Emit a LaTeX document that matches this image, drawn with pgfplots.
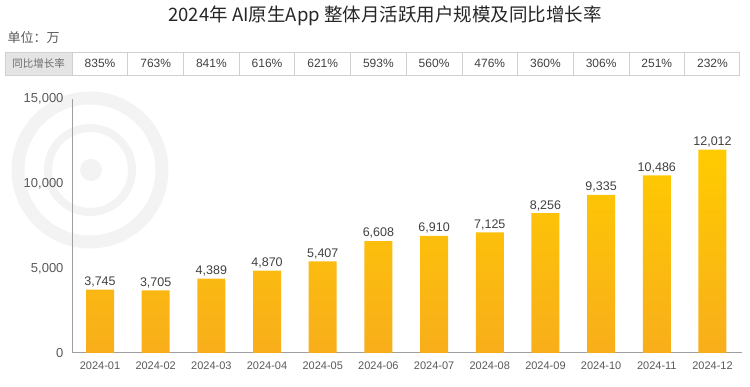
\documentclass[border=0pt]{standalone}
\usepackage{pgfplots}
\pgfplotsset{compat=1.18}
\usepackage{fontspec}
\setmainfont{Liberation Sans}
\newfontfamily\cjk{Noto Sans CJK SC}
\definecolor{barTop}{HTML}{FFCB00}
\definecolor{barBot}{HTML}{F8AE1B}
\definecolor{txt}{HTML}{595959}
\definecolor{val}{HTML}{404040}
\definecolor{grid}{HTML}{D0D0D0}
\definecolor{cellbg}{HTML}{E4E4E4}
\definecolor{wm}{HTML}{F3F3F3}
\begin{document}
\begin{tikzpicture}[x=1pt,y=1pt]
\path[use as bounding box] (0,0) rectangle (750,387);
% watermark logo
\draw[wm, line width=13pt] (90,217) circle (72);
\draw[wm, line width=8pt] (90,217) circle (42);
\fill[wm] (91,217) circle (11);
\begin{axis}[
  at={(73pt,34pt)}, anchor=south west,
  scale only axis, width=669pt, height=254pt,
  xmin=-0.485, xmax=11.53, ymin=0, ymax=15000,
  axis lines=left, axis line style={-, draw=gray!75, line width=1pt},
  xtick={0,...,11},
  xticklabels={2024-01,2024-02,2024-03,2024-04,2024-05,2024-06,2024-07,2024-08,2024-09,2024-10,2024-11,2024-12},
  ytick={0,5000,10000,15000},
  scaled y ticks=false,
  major tick length=0pt,
  /pgf/number format/assume math mode=true,
  /pgf/number format/1000 sep={,},
  yticklabel style={font=\fontsize{13}{15}\selectfont, text=txt, xshift=-6pt},
  xticklabel style={font=\fontsize{11}{13}\selectfont, text=txt, yshift=-5pt},
  clip=false,
]
\addplot[ybar, bar width=28pt, draw=none, top color=barTop, bottom color=barBot,
  nodes near coords,
  every node near coord/.append style={font=\fontsize{12.5}{14}\selectfont, text=val, yshift=-1pt}]
  coordinates {(0,3745) (1,3705) (2,4389) (3,4870) (4,5407) (5,6608) (6,6910) (7,7125) (8,8256) (9,9335) (10,10486) (11,12012)};
% YoY growth table
\fill[cellbg] (axis cs:-1.706,16417) rectangle (axis cs:-0.5,17776);
\draw[grid, line width=0.8pt] (axis cs:-1.706,16417) rectangle (axis cs:11.49,17776);
\pgfplotsinvokeforeach{-0.5,0.5,1.5,2.5,3.5,4.5,5.5,6.5,7.5,8.5,9.5,10.5}{
  \draw[grid, line width=0.8pt] (axis cs:#1,16417) -- (axis cs:#1,17776);
}
\node[text=gray!85!black, font=\cjk\fontsize{10.5}{12}\selectfont] at (axis cs:-1.103,17096) {同比增长率};
\addplot[draw=none, mark=none, point meta=explicit symbolic,
  nodes near coords={\pgfplotspointmeta\%},
  every node near coord/.append style={anchor=center, font=\fontsize{12}{14}\selectfont, text=val}]
  coordinates {(0,17096)[835] (1,17096)[763] (2,17096)[841] (3,17096)[616] (4,17096)[621] (5,17096)[593] (6,17096)[560] (7,17096)[476] (8,17096)[360] (9,17096)[306] (10,17096)[251] (11,17096)[232]};
\end{axis}
\node[font=\cjk\fontsize{18.5}{22}\selectfont, text=black!85] at (385,371) {2024年 AI原生App 整体月活跃用户规模及同比增长率};
\node[anchor=west, font=\cjk\fontsize{13}{15}\selectfont, text=txt] at (4,349) {单位：万};
\end{tikzpicture}
\end{document}
